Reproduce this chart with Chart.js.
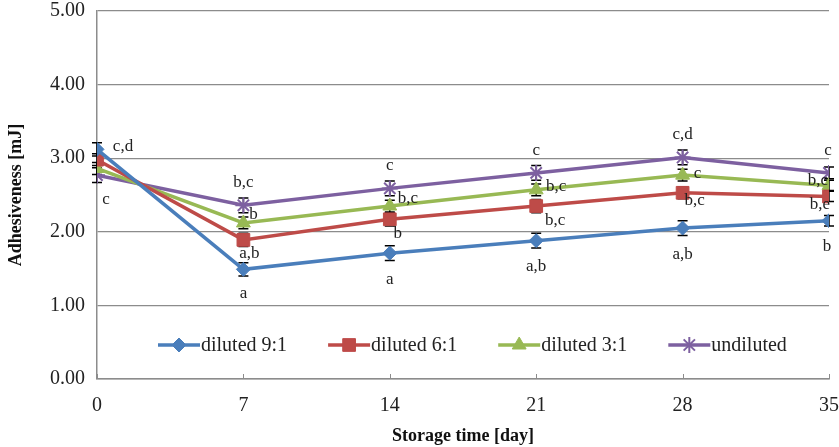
<!DOCTYPE html>
<html>
<head>
<meta charset="utf-8">
<script src="https://cdn.jsdelivr.net/npm/chart.js@4.4.1/dist/chart.umd.min.js"></script>
<style>
  html, body { margin: 0; padding: 0; background: #fff; overflow: hidden; width: 839px; height: 447px; }
  #view { width: 839px; height: 447px; position: relative; overflow: hidden; }
  #wrap { width: 854px; height: 460px; position: absolute; left: 0; top: -13px; }
</style>
</head>
<body>
<div id="view"><div id="wrap"><canvas id="chart"></canvas></div></div>
<script>
// Data
const days = [0, 7, 14, 21, 28, 35];
const yTicks = [0, 1, 2, 3, 4, 5];
const seriesNames = ['diluted 9:1', 'diluted 6:1', 'diluted 3:1', 'undiluted'];

const diluted91 = [3.12, 1.49, 1.71, 1.88, 2.05, 2.15];
const diluted61 = [2.98, 1.89, 2.17, 2.35, 2.53, 2.48];
const diluted31 = [2.86, 2.12, 2.35, 2.57, 2.77, 2.63];
const undiluted = [2.77, 2.36, 2.59, 2.80, 3.01, 2.80];

const err91 = [0.09, 0.09, 0.10, 0.10, 0.10, 0.07];
const err61 = [0.08, 0.09, 0.09, 0.09, 0.08, 0.07];
const err31 = [0.08, 0.08, 0.08, 0.08, 0.08, 0.07];
const errUn = [0.10, 0.10, 0.10, 0.10, 0.10, 0.08];

const letters91 = ['c,d', 'a', 'a', 'a,b', 'a,b', 'b'];
const letters61 = ['', 'a,b', 'b', 'b,c', 'b,c', 'b,e'];
const letters31 = ['', 'b', 'b,c', 'b,c', 'c', 'b,c'];
const lettersUn = ['c', 'b,c', 'c', 'c', 'c,d', 'c'];

// where each letter sits relative to its point (px)
const letterOffsets = [
  [[26, -3], [0, 24], [0, 26], [0, 26], [0, 26], [-2, 26]],
  [[0, 0], [6, 14], [8, 14], [19, 14], [12, 8], [-9, 8]],
  [[0, 0], [10, -8], [18, -8], [20, -3], [15, -2], [-11, -5]],
  [[9, 24], [0, -23], [0, -23], [0, -22], [0, -23], [-1, -22]]
];

const colors = ['#4A7EBB', '#BE4B48', '#98B954', '#7D60A0'];
const markers = ['rectRot', 'rect', 'triangle', 'star'];
const markerSizes = [7, 9, 8, 8];

const values = [diluted91, diluted61, diluted31, undiluted];
const errors = [err91, err61, err31, errUn];
const letters = [letters91, letters61, letters31, lettersUn];

const serif = '"Liberation Serif", "Times New Roman", serif';

const extrasPlugin = {
  id: 'extras',
  beforeDatasetsDraw(chart) {
    const ctx = chart.ctx;
    const xs = chart.scales.x, ys = chart.scales.y;
    ctx.save();
    // inner tick marks on the x axis
    ctx.strokeStyle = '#8c8c8c';
    ctx.lineWidth = 1;
    days.forEach(d => {
      const x = Math.round(xs.getPixelForValue(d)) + 0.5;
      ctx.beginPath();
      ctx.moveTo(x, chart.chartArea.bottom);
      ctx.lineTo(x, chart.chartArea.bottom - 5);
      ctx.stroke();
    });
    // error bars
    ctx.strokeStyle = '#000';
    ctx.lineWidth = 1.5;
    values.forEach((vals, s) => {
      vals.forEach((v, i) => {
        const x = xs.getPixelForValue(days[i]);
        const yTop = ys.getPixelForValue(v + errors[s][i]);
        const yBot = ys.getPixelForValue(v - errors[s][i]);
        ctx.beginPath();
        ctx.moveTo(x, yTop); ctx.lineTo(x, yBot);
        ctx.moveTo(x - 5, yTop); ctx.lineTo(x + 5, yTop);
        ctx.moveTo(x - 5, yBot); ctx.lineTo(x + 5, yBot);
        ctx.stroke();
      });
    });
    ctx.restore();
  },
  afterDatasetsDraw(chart) {
    const ctx = chart.ctx;
    const xs = chart.scales.x, ys = chart.scales.y;
    // significance letters
    ctx.save();
    ctx.fillStyle = '#222';
    ctx.font = '17px ' + serif;
    ctx.textAlign = 'center';
    ctx.textBaseline = 'middle';
    letters.forEach((labs, s) => {
      labs.forEach((t, i) => {
        if (!t) return;
        const x = xs.getPixelForValue(days[i]) + letterOffsets[s][i][0];
        const y = ys.getPixelForValue(values[s][i]) + letterOffsets[s][i][1];
        ctx.fillText(t, x, y);
      });
    });
    ctx.restore();
  },
  afterDraw(chart) {
    // legend inside the plot area
    const ctx = chart.ctx;
    const area = chart.chartArea;
    ctx.save();
    ctx.font = '20px ' + serif;
    ctx.textBaseline = 'middle';
    ctx.textAlign = 'left';
    let x = area.left + 61;
    const y = area.bottom - 34;
    seriesNames.forEach((name, s) => {
      ctx.strokeStyle = colors[s];
      ctx.fillStyle = colors[s];
      ctx.lineWidth = 3.5;
      ctx.beginPath();
      ctx.moveTo(x, y); ctx.lineTo(x + 42, y);
      ctx.stroke();
      ctx.lineWidth = s === 3 ? 2 : 1;
      Chart.helpers.drawPoint(ctx, {
        pointStyle: markers[s], radius: markerSizes[s], borderWidth: s === 3 ? 2 : 1, rotation: 0
      }, x + 21, y);
      ctx.fillStyle = '#222';
      ctx.fillText(name, x + 43, y + 1);
      x += 43 + ctx.measureText(name).width + 41;
    });
    ctx.restore();
  }
};

new Chart(document.getElementById('chart'), {
  type: 'line',
  data: {
    datasets: seriesNames.map((name, s) => ({
      label: name,
      data: values[s].map((v, i) => ({ x: days[i], y: v })),
      borderColor: colors[s],
      backgroundColor: colors[s],
      borderWidth: 3.5,
      pointStyle: markers[s],
      pointRadius: markerSizes[s],
      pointBorderWidth: s === 3 ? 2 : 1,
      pointBorderColor: colors[s],
      pointBackgroundColor: colors[s],
      tension: 0
    }))
  },
  options: {
    responsive: true,
    maintainAspectRatio: false,
    animation: false,
    events: [],
    layout: { padding: { top: 0, right: 10, left: 0, bottom: 0 } },
    plugins: {
      legend: { display: false },
      tooltip: { enabled: false }
    },
    scales: {
      x: {
        type: 'linear',
        min: 0,
        max: 35,
        afterBuildTicks: s => { s.ticks = days.map(v => ({ value: v })); },
        ticks: {
          color: '#222',
          font: { family: serif, size: 20 },
          padding: 15
        },
        grid: {
          display: true,
          drawOnChartArea: false,
          drawTicks: false,
          color: '#8c8c8c'
        },
        border: { color: '#8c8c8c', width: 1.5 },
        title: {
          display: true,
          text: 'Storage time [day]',
          color: '#111',
          font: { family: serif, size: 18, weight: 'bold' },
          padding: { top: 10, bottom: 0 }
        },
        afterFit: s => { s.height = 68; }
      },
      y: {
        min: 0,
        max: 5,
        afterBuildTicks: s => { s.ticks = yTicks.map(v => ({ value: v })); },
        ticks: {
          color: '#222',
          font: { family: serif, size: 20 },
          padding: 12,
          callback: v => v.toFixed(2)
        },
        grid: {
          color: '#8c8c8c',
          lineWidth: 1.2,
          drawTicks: false
        },
        border: { color: '#8c8c8c', width: 1.5 },
        title: {
          display: true,
          text: 'Adhesiveness [mJ]',
          color: '#111',
          font: { family: serif, size: 18, weight: 'bold' },
          padding: { top: 6, bottom: 0 }
        },
        afterFit: s => { s.width = 97; }
      }
    }
  },
  plugins: [extrasPlugin]
});
</script>
</body>
</html>
